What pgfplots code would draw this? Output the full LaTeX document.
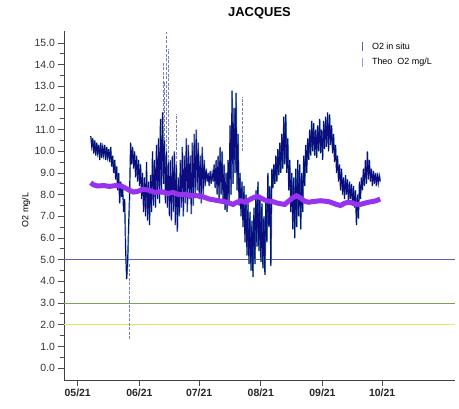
\documentclass[border=0pt]{standalone}
\usepackage{pgfplots}
\pgfplotsset{compat=1.18}
\usepackage{pgfplotstable}
\usepackage{fontspec}
\setmainfont{Liberation Sans}
\definecolor{insitu}{RGB}{12,12,128}
\definecolor{tealc}{RGB}{50,150,160}
\definecolor{theo}{RGB}{150,50,240}
\definecolor{lfive}{RGB}{95,95,180}
\definecolor{lthree}{RGB}{120,160,90}
\definecolor{ltwo}{RGB}{230,230,110}
\definecolor{spike}{RGB}{120,130,180}
\definecolor{legA}{RGB}{100,90,170}
\definecolor{legB}{RGB}{190,140,225}

\pgfplotstableread[row sep=\\]{x y\\
6.5 10.7\\ 7 10.2\\ 7.5 10.6\\ 8 9.9\\ 8.5 10.5\\ 9 9.8\\ 9.5 10.4\\ 10 9.9\\ 10.5 10.3\\ 11 9.6\\
11.5 10.4\\ 12 9.7\\ 12.5 10.2\\ 13 9.8\\ 13.5 10.3\\ 14 9.6\\ 14.5 10.2\\ 15 9.7\\ 15.5 10.1\\ 16 9.5\\
16.5 10.2\\ 17 9.3\\ 17.5 9.8\\ 18 9.0\\ 18.5 9.6\\ 19 8.7\\ 19.5 9.3\\ 20 8.2\\ 20.5 9.0\\ 21 7.6\\
21.5 8.6\\ 22 7.9\\ 22.5 8.3\\ 23 7.2\\ 23.5 7.8\\ 24 5.5\\ 24.5 4.1\\ 25 4.8\\ 25.5 6.5\\ 26 8.0\\
26.5 10.4\\ 27 9.4\\ 27.5 10.2\\ 28 9.2\\ 28.5 10.0\\ 29 8.8\\ 29.5 9.8\\ 30 8.6\\ 30.5 9.6\\ 31 8.4\\
31.5 9.4\\ 32 7.8\\ 32.5 9.0\\ 33 7.2\\ 33.5 8.8\\ 34 7.0\\ 34.5 9.5\\ 35 6.8\\ 35.5 8.6\\ 36 6.6\\
36.5 8.9\\ 37 7.2\\ 37.5 10.0\\ 38 7.5\\ 38.5 9.6\\ 39 7.4\\ 39.5 10.3\\ 40 7.8\\ 40.5 10.6\\ 41 7.6\\
41.5 11.5\\ 42 8.0\\ 42.5 11.8\\ 43 8.5\\ 43.5 10.5\\ 44 7.6\\ 44.5 10.0\\ 45 7.4\\ 45.5 9.5\\ 46 7.0\\
46.5 9.6\\ 47 6.8\\ 47.5 9.8\\ 48 7.2\\ 48.5 10.0\\ 49 6.6\\ 49.5 9.4\\ 50 6.3\\ 50.5 8.8\\ 51 7.0\\
51.5 9.6\\ 52 7.4\\ 52.5 10.2\\ 53 7.0\\ 53.5 9.8\\ 54 7.6\\ 54.5 10.6\\ 55 7.2\\ 55.5 10.3\\ 56 7.8\\
56.5 9.8\\ 57 7.1\\ 57.5 10.4\\ 58 7.5\\ 58.5 10.8\\ 59 7.9\\ 59.5 11.0\\ 60 8.2\\ 60.5 10.4\\ 61 7.8\\
61.5 9.8\\ 62 7.6\\ 62.5 10.2\\ 63 8.0\\ 63.5 9.6\\ 64 8.4\\ 64.5 9.2\\ 65 8.6\\ 65.5 9.0\\ 66 8.4\\
66.5 9.1\\ 67 8.5\\ 67.5 9.0\\ 68 8.6\\ 68.5 9.4\\ 69 8.3\\ 69.5 9.6\\ 70 8.0\\ 70.5 9.8\\ 71 7.8\\
71.5 10.2\\ 72 8.0\\ 72.5 10.0\\ 73 7.6\\ 73.5 9.4\\ 74 7.3\\ 74.5 9.0\\ 75 7.2\\ 75.5 9.6\\ 76 7.6\\
76.5 11.2\\ 77 8.0\\ 77.5 12.8\\ 78 8.5\\ 78.5 12.0\\ 79 9.0\\ 79.5 12.7\\ 80 8.2\\ 80.5 10.8\\ 81 7.5\\
81.5 9.0\\ 82 7.0\\ 82.5 8.6\\ 83 6.5\\ 83.5 8.4\\ 84 5.8\\ 84.5 8.0\\ 85 5.2\\ 85.5 7.6\\ 86 4.8\\
86.5 7.2\\ 87 4.5\\ 87.5 6.8\\ 88 4.2\\ 88.5 7.4\\ 89 4.8\\ 89.5 8.2\\ 90 5.6\\ 90.5 8.6\\ 91 5.4\\
91.5 8.0\\ 92 4.9\\ 92.5 7.6\\ 93 4.6\\ 93.5 7.0\\ 94 4.3\\ 94.5 7.8\\ 95 5.8\\ 95.5 9.0\\ 96 6.5\\
96.5 8.4\\ 97 4.7\\ 97.5 9.2\\ 98 8.3\\ 98.5 9.4\\ 99 8.5\\ 99.5 9.8\\ 100 8.6\\ 100.5 10.1\\ 101 8.9\\
101.5 10.4\\ 102 9.0\\ 102.5 10.8\\ 103 9.2\\ 103.5 11.6\\ 104 9.4\\ 104.5 11.7\\ 105 9.0\\ 105.5 10.6\\ 106 8.2\\
106.5 9.6\\ 107 7.2\\ 107.5 9.0\\ 108 6.4\\ 108.5 8.8\\ 109 6.0\\ 109.5 9.2\\ 110 6.5\\ 110.5 9.6\\ 111 7.0\\
111.5 9.4\\ 112 6.4\\ 112.5 9.0\\ 113 7.2\\ 113.5 9.8\\ 114 8.4\\ 114.5 10.3\\ 115 9.0\\ 115.5 10.6\\ 116 9.6\\
116.5 11.0\\ 117 9.8\\ 117.5 11.4\\ 118 10.0\\ 118.5 11.3\\ 119 9.8\\ 119.5 11.0\\ 120 9.7\\ 120.5 11.2\\ 121 10.0\\
121.5 11.5\\ 122 9.9\\ 122.5 11.0\\ 123 9.6\\ 123.5 11.4\\ 124 10.1\\ 124.5 11.6\\ 125 10.2\\ 125.5 11.8\\ 126 10.0\\
126.5 11.7\\ 127 10.3\\ 127.5 11.2\\ 128 9.9\\ 128.5 10.8\\ 129 9.5\\ 129.5 10.3\\ 130 9.0\\ 130.5 9.8\\ 131 8.6\\
131.5 9.4\\ 132 8.2\\ 132.5 9.2\\ 133 8.0\\ 133.5 8.8\\ 134 7.8\\ 134.5 8.9\\ 135 8.0\\ 135.5 8.7\\ 136 7.6\\
136.5 8.6\\ 137 7.8\\ 137.5 8.5\\ 138 7.5\\ 138.5 8.4\\ 139 7.4\\ 139.5 8.2\\ 140 6.6\\ 140.5 8.0\\ 141 6.9\\
141.5 8.6\\ 142 7.8\\ 142.5 8.8\\ 143 8.2\\ 143.5 9.2\\ 144 8.4\\ 144.5 9.6\\ 145 8.5\\ 145.5 10.0\\ 146 8.7\\
146.5 9.6\\ 147 8.6\\ 147.5 9.2\\ 148 8.4\\ 148.5 9.1\\ 149 8.5\\ 149.5 9.0\\ 150 8.4\\ 150.5 9.0\\ 151 8.5\\
151.5 8.9\\ 152 8.6\\
}\insitu

\pgfplotstableread[row sep=\\]{x y\\
6.5 8.55\\ 8 8.45\\ 10 8.40\\ 13 8.42\\ 16 8.38\\ 19 8.42\\ 22 8.40\\ 24 8.30\\ 26 8.20\\ 28 8.12\\
30 8.15\\ 33 8.25\\ 36 8.20\\ 39 8.10\\ 42 8.15\\ 45 8.05\\ 48 8.10\\ 51 8.00\\ 54 8.02\\ 57 7.95\\
60 7.95\\ 63 7.90\\ 66 7.80\\ 69 7.75\\ 72 7.70\\ 75 7.65\\ 78 7.55\\ 80 7.65\\ 82 7.72\\ 84 7.65\\
86 7.75\\ 88 7.85\\ 90 7.92\\ 92 7.85\\ 94 7.75\\ 96 7.70\\ 98 7.68\\ 100 7.62\\ 102 7.58\\ 104 7.55\\
106 7.70\\ 108 7.85\\ 110 7.95\\ 112 7.85\\ 114 7.70\\ 116 7.65\\ 118 7.68\\ 120 7.70\\ 122 7.72\\ 124 7.70\\
126 7.68\\ 128 7.62\\ 130 7.55\\ 132 7.50\\ 134 7.60\\ 136 7.65\\ 138 7.62\\ 140 7.55\\ 142 7.55\\ 144 7.60\\
146 7.65\\ 148 7.68\\ 150 7.72\\ 152 7.80\\
}\theotab

\begin{document}
\begin{tikzpicture}
\begin{axis}[
  scale only axis, width=391bp, height=349bp,
  xmin=-6.9, xmax=189.6, ymin=-0.55, ymax=15.55,
  axis x line*=bottom, axis y line*=left,
  axis line style={draw=black!75, line width=0.8bp},
  xtick={0,31,61,92,123,153},
  xticklabels={\textbf{05/21},\textbf{06/21},\textbf{07/21},\textbf{08/21},\textbf{09/21},\textbf{10/21}},
  ytick={0,1,...,15}, minor y tick num=1,
  tick align=outside,
  major tick length=5.5bp, minor tick length=4bp,
  tick style={draw=black!70, line width=0.8bp},
  /pgf/number format/assume math mode=true,
  y tick label style={/pgf/number format/.cd, fixed, fixed zerofill, precision=1},
  tick label style={font=\fontsize{10.5}{12}\selectfont, text=black!80},
  x tick label style={font=\fontsize{10.5}{12}\selectfont, text=black!85},
  title={JACQUES},
  title style={font=\bfseries\fontsize{13}{15}\selectfont, at={(axis description cs:0.5,1)}, anchor=base, yshift=8.5bp},
  ylabel={O2 mg/L},
  every axis y label/.style={at={(axis description cs:-0.0972,0.487)}, rotate=90, anchor=center, font=\fontsize{9}{10}\selectfont},
  legend style={at={(0.762,0.972)}, anchor=north west, draw=none, fill=none,
    font=\fontsize{9}{10}\selectfont, row sep=3.5bp, inner sep=0pt,
    /tikz/every odd column/.append style={column sep=7bp}},
  legend cell align=left,
]
% thresholds
\addplot[lfive, line width=0.8bp, forget plot] coordinates {(-6.9,5) (189.6,5)};
\addplot[lthree, line width=0.8bp, forget plot] coordinates {(-6.9,3) (189.6,3)};
\addplot[ltwo, line width=0.8bp, forget plot] coordinates {(-6.9,2) (189.6,2)};
% spikes (gappy data)
\addplot[spike, line width=0.8bp, dash pattern=on 3bp off 1.5bp, forget plot, unbounded coords=jump] coordinates {
 (25.8,4.8) (25.8,1.3) (25.8,nan)
 (43.2,10.0) (43.2,14.1) (43.2,nan)
 (43.8,10.5) (43.8,13.2) (43.8,nan)
 (44.5,10.0) (44.5,15.5) (44.5,nan)
 (45.4,9.5) (45.4,14.7) (45.4,nan)
 (49.4,9.0) (49.4,11.7) (49.4,nan)
 (83.0,10.0) (83.0,12.5)
};
\addplot[tealc, line width=0.7bp, forget plot] table[x expr=\thisrow{x}+0.3, y=y] {\insitu};
\addplot[insitu, line width=0.95bp,
  legend image code/.code={\draw[legA, line width=0.9bp] (0.3em,-0.45em) -- (0.3em,0.45em);}] table {\insitu};
\addlegendentry{O2 in situ}
\addplot[theo, line width=5bp,
  legend image code/.code={\draw[legB, line width=0.9bp] (0.3em,-0.45em) -- (0.3em,0.45em);}] table {\theotab};
\addlegendentry{Theo\ \ O2 mg/L}
\end{axis}
\pgfresetboundingbox
\path (-64bp,-29bp) rectangle (395bp,380bp);
\end{tikzpicture}
\end{document}
